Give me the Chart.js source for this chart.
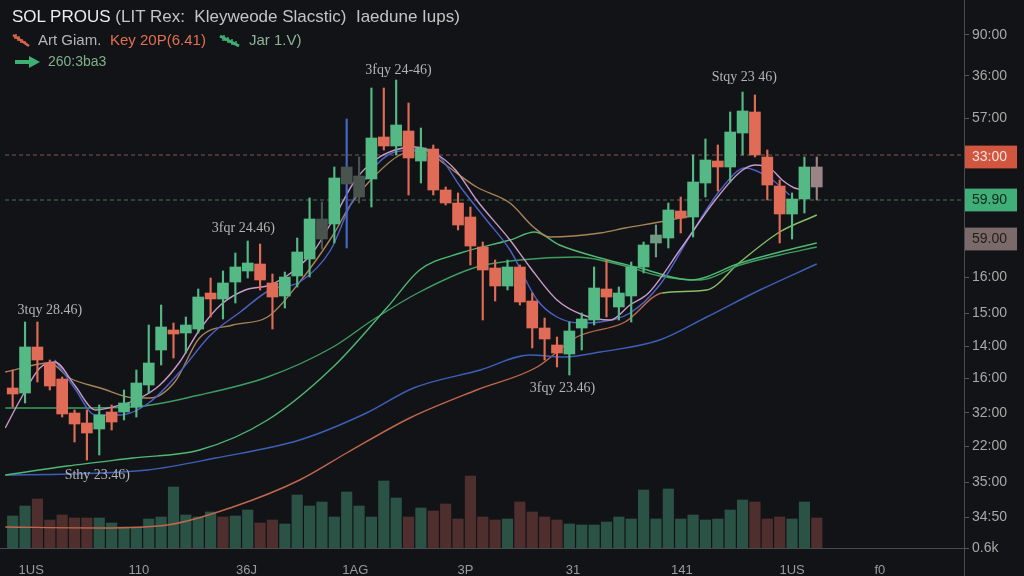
<!DOCTYPE html>
<html>
<head>
<meta charset="utf-8">
<script src="https://cdn.jsdelivr.net/npm/chart.js@4.4.1/dist/chart.umd.min.js"></script>
<style>
html,body{margin:0;padding:0;background:#121317;}
#wrap{position:relative;width:1024px;height:576px;overflow:hidden;background:#121317;}
#c{position:absolute;left:0;top:0;}
.t{position:absolute;white-space:nowrap;font-family:'Liberation Sans',Arial,sans-serif;}
</style>
</head>
<body>
<div id="wrap">
<canvas id="c" width="1024" height="576"></canvas>
<div class="t" style="left:12px;top:7px;font-size:17px;color:#c4c4c4"><span style="color:#ececec">SOL PROUS</span> (LIT Rex:&nbsp; Kleyweode Slacstic)&nbsp; Iaedune Iups)</div>
<svg class="t" style="left:11px;top:32px" width="20" height="16" viewBox="0 0 20 16"><path d="M2 3 L18 14" stroke="#d8664a" stroke-width="2.5"/><path d="M5 2l0 3M8 4l0 3M11 7l0 3M14 9l0 3M3 6h3M6 8h3M9 10h3" stroke="#d8664a" stroke-width="1.5"/></svg>
<div class="t" style="left:38px;top:31px;font-size:15px;color:#b5b5b5">Art Giam.</div>
<div class="t" style="left:110px;top:31px;font-size:15px;color:#e07050">Key 20P(6.41)</div>
<svg class="t" style="left:218px;top:34px" width="24" height="14" viewBox="0 0 24 14"><path d="M2 2 L21 12" stroke="#3fae72" stroke-width="3"/><path d="M6 1l0 4M10 3l0 4M14 5l0 4M18 7l0 4M4 6h4M9 8h4M13 10h4" stroke="#3fae72" stroke-width="1.5"/></svg>
<div class="t" style="left:249px;top:31px;font-size:15px;color:#8fb39a">Jar 1.V)</div>
<svg class="t" style="left:14px;top:54px" width="28" height="16" viewBox="0 0 28 16"><path d="M1 8 H17" stroke="#3fb072" stroke-width="4"/><path d="M15 2 L26 8 L15 14 Z" fill="#3fb072"/></svg>
<div class="t" style="left:48px;top:53px;font-size:14px;color:#7fb08a">260:3ba3</div>
</div>
<script>
// ---- data ----
const candleOpen  = [16.0,15.5,20.1,18.5,16.9,13.5,12.5,11.9,13.6,13.6,14.1,16.3,19.8,21.8,21.5,21.9,25.5,24.9,26.6,27.7,28.4,26.5,25.2,27.2,28.9,32.9,32.4,38.1,37.2,36.9,41.1,40.2,41.7,38.7,39.9,35.8,34.5,33.1,30.1,28.0,26.2,28.1,24.7,22.0,20.3,19.4,22.0,22.8,25.9,24.1,25.2,28.1,30.5,31.0,33.7,33.1,36.5,38.7,38.1,41.5,43.6,39.1,36.2,33.4,34.9,38.1];
const candleHigh  = [17.8,22.6,22.6,18.8,17.1,13.8,13.8,14.3,14.3,15.8,17.8,22.3,24.3,22.5,23.1,25.9,27.0,27.7,29.5,30.7,30.4,27.4,27.6,31.0,35.0,34.6,38.1,42.9,39.1,46.0,46.0,46.8,44.5,42.0,40.3,36.1,35.5,34.1,30.6,28.8,28.8,28.3,25.5,23.0,21.1,22.6,23.5,28.1,28.8,26.1,28.6,30.6,32.3,34.5,35.1,39.3,40.9,40.3,43.6,45.6,45.3,39.8,36.8,35.5,39.1,39.1];
const candleLow   = [14.1,14.5,16.6,15.8,13.1,10.6,8.8,9.3,11.8,12.8,13.1,15.5,18.3,19.0,19.5,21.5,23.1,22.9,24.5,27.0,25.8,21.9,24.0,26.1,27.1,29.9,30.5,30.0,34.5,34.1,39.8,39.3,35.3,36.5,35.3,34.3,31.8,28.3,22.8,24.7,25.8,24.3,20.0,18.8,18.1,17.3,19.8,22.3,23.1,22.8,22.6,27.5,29.1,30.0,31.5,31.1,35.1,35.7,36.6,39.3,39.1,34.8,30.5,30.9,33.5,34.8];
const candleClose = [15.4,20.1,18.8,16.2,13.4,12.4,11.5,13.3,12.6,14.5,16.5,18.5,22.1,21.4,22.3,25.1,24.9,26.5,28.1,28.5,26.8,25.1,27.1,29.6,32.9,30.9,37.0,36.4,35.1,41.0,40.2,42.3,39.0,40.0,35.8,34.5,32.3,30.2,27.8,26.2,28.1,24.6,22.0,20.9,19.5,21.7,22.9,26.0,25.1,25.5,28.1,30.3,31.3,33.8,33.0,36.6,38.8,38.1,41.6,43.7,39.3,36.3,33.4,34.9,38.1,36.1];
const mutedCandles = [25, 27, 28, 52, 65];
const volume = [3.2,4.2,4.9,2.8,3.3,3.0,3.0,3.0,2.5,2.1,2.1,2.9,3.1,6.1,3.3,3.1,3.6,3.1,3.2,3.8,2.5,2.8,2.4,5.3,4.2,4.6,3.1,5.6,4.2,3.1,6.7,5.0,3.1,4.0,3.7,4.4,2.9,7.2,3.1,2.8,2.9,4.6,3.6,3.1,2.8,2.4,2.3,2.3,2.6,3.1,2.9,5.8,2.9,5.9,2.9,3.3,2.8,2.9,3.8,4.8,4.6,2.9,3.1,2.9,4.6,3.0];
const volumeSide = ('ggrrrrrggg'+'gggggggrgg'+'rrgggggggg'+'ggrgrrrrrr'+'grrrrggggg'+'gggggggggg'+'rrrggr').split('');

const maPink = [[-0.6,12.0],[0.6,14.8],[2.2,18.0],[3.4,18.6],[5.0,16.3],[6.7,13.8],[8.7,14.3],[10.3,15.0],[11.9,16.3],[13.5,18.6],[15.1,21.8],[16.8,24.3],[18.8,25.8],[20.8,26.3],[22.8,27.8],[24.4,29.8],[26.1,33.3],[27.7,36.8],[29.3,38.8],[30.9,39.8],[32.5,40.1],[34.1,39.5],[35.8,37.8],[37.5,34.8],[40.2,30.8],[41.8,28.1],[44.0,24.8],[46.1,23.3],[48.3,22.8],[49.9,24.3],[51.4,25.5],[54.1,30.1],[56.8,34.8],[58.8,37.6],[60.0,38.3],[61.2,38.0],[62.2,36.8],[63.2,36.0],[64.0,35.8]];
const maBlueFast = [[3.4,18.8],[5.0,16.0],[6.7,13.3],[8.7,13.3],[11.1,14.6],[13.5,17.6],[16.0,21.3],[18.4,23.6],[20.8,25.8],[23.2,26.6],[25.7,29.8],[27.3,34.3],[28.9,37.6],[30.9,39.6],[32.9,39.8],[34.5,39.1],[36.2,36.1],[38.3,32.8],[40.2,29.8],[42.4,24.8],[44.0,23.1],[45.9,22.5],[47.5,22.6],[49.9,23.5],[52.3,26.3],[54.8,31.3],[57.2,35.8],[59.2,38.0],[61.2,37.0],[62.8,35.3]];
const maTan = [[-0.6,17.6],[3.0,18.5],[4.6,17.0],[7.1,16.0],[9.9,15.0],[11.1,15.0],[13.1,16.6],[15.1,21.0],[17.8,22.3],[20.6,23.1],[23.2,26.6],[25.9,31.3],[27.3,34.3],[29.1,37.0],[31.3,39.3],[33.3,39.8],[34.8,38.5],[37.5,36.1],[40.2,34.5],[42.1,32.1],[43.4,31.1],[47.5,31.5],[49.5,32.0],[52.3,32.6],[54.8,33.2]];
const maGreenA = [[-0.6,7.3],[4.4,8.2],[9.7,9.0],[15.1,9.8],[20.6,12.8],[25.9,18.1],[30.3,24.1],[32.9,27.8],[36.2,29.5],[40.2,30.8],[42.2,31.6],[44.2,30.3],[47.5,29.0],[50.7,28.0],[54.8,26.8],[58.8,28.5],[62.0,29.6],[65.0,30.5]];
const maGreenB = [[-0.6,14.0],[4.4,14.0],[9.7,14.1],[15.1,15.3],[20.6,17.1],[25.9,20.1],[29.1,22.8],[32.9,25.6],[37.5,28.1],[41.0,28.8],[45.6,29.1],[49.5,28.2],[52.3,27.2],[55.6,26.8],[58.8,28.3],[62.0,29.3],[65.0,30.1]];
const maBlueSlow = [[-0.6,7.3],[4.6,7.4],[10.9,7.8],[16.4,9.0],[23.2,10.8],[28.6,13.5],[32.4,16.0],[37.8,17.8],[41.8,19.3],[44.5,19.1],[47.5,19.6],[52.3,20.8],[56.1,23.1],[60.4,25.8],[65.0,28.4]];
const maOrangeSlow = [[-0.6,2.1],[7.1,2.0],[12.5,2.3],[17.8,4.1],[23.2,6.8],[27.0,9.5],[32.1,13.0],[37.5,15.8],[42.4,18.1],[45.6,21.1],[49.5,22.6],[52.5,25.5],[56.1,25.8],[58.8,28.6],[62.0,31.6],[65.0,33.3]];

const priceLines = [39.3, 34.8];
const yTickValues = [51.3, 47.2, 43.0, 39.1, 34.8, 30.9, 27.1, 23.5, 20.2, 17.0, 13.5, 10.2, 6.6, 3.1, 0];
const yTickLabels = ['90:00','36:00','57:00','33:00','59.90','59.00','16:00','15:00','14:00','16:00','32:00','22:00','35:00','34:50','0.6k'];
const xTickValues = [1.5, 10.2, 18.9, 27.7, 36.6, 45.3, 54.1, 63.0, 70.1];
const xTickLabels = ['1US','110','36J','1AG','3P','31','141','1US','f0'];
const annoText = ['3fqy 24-46)', '3fqr 24.46)', 'Stqy 23 46)', '3tqy 28.46)', '3fqy 23.46)', 'Sthy 23.46)'];
const annoAt = [[28.5,47.8],[16.1,32.0],[56.5,47.1],[0.4,23.8],[41.8,16.0],[4.2,7.3]];

// ---- styling helpers ----
const UP = '#55b985', DOWN = '#e06c57';
function candleColor(i){
  if (mutedCandles.includes(i)) {
    if (i === 52) return '#6f9a80';
    if (i === 65) return '#9a8486';
    return '#4a544e';
  }
  return candleClose[i] >= candleOpen[i] ? UP : DOWN;
}
const idx = candleOpen.map((_, i) => i);
const pts = arr => arr.map(p => ({x: p[0], y: p[1]}));
function lineDs(arr, color, order, extra){
  return Object.assign({type:'line', data: pts(arr), borderColor: color, borderWidth: 1.4,
    pointRadius: 0, cubicInterpolationMode: 'monotone', fill: false, order: order, yAxisID: 'y'}, extra || {});
}

const badge = {3: ['#d2553f', '#f3e2dc'], 4: ['#3fae78', '#0f2a1c'], 5: ['#7a6a6a', '#241d1d']};

const annoPlugin = {
  id: 'anno',
  afterDatasetsDraw(chart){
    const {ctx, scales: {x, y}} = chart;
    ctx.save();
    ctx.font = '14px "Liberation Serif", "DejaVu Serif", serif';
    ctx.fillStyle = '#b4b4b4';
    ctx.textBaseline = 'middle';
    annoText.forEach((t, k) => ctx.fillText(t, x.getPixelForValue(annoAt[k][0]), y.getPixelForValue(annoAt[k][1])));
    ctx.restore();
  },
  afterDraw(chart){
    const {ctx, chartArea: a, width, height} = chart;
    ctx.save();
    ctx.strokeStyle = '#4a4b50';
    ctx.lineWidth = 1;
    ctx.beginPath();
    ctx.moveTo(0, a.bottom + 0.5); ctx.lineTo(a.left, a.bottom + 0.5);
    ctx.moveTo(a.right + 0.5, a.bottom); ctx.lineTo(a.right + 0.5, height);
    ctx.stroke();
    ctx.restore();
  }
};

new Chart(document.getElementById('c'), {
  type: 'bar',
  data: {
    datasets: [
      {label:'bodies', data: idx.map(i => ({x: i, y: [candleOpen[i], candleClose[i]]})),
        backgroundColor: idx.map(candleColor), barThickness: 11, minBarLength: 2, grouped: false, order: 1, yAxisID: 'y'},
      {label:'wicks', data: idx.map(i => ({x: i, y: [candleLow[i], candleHigh[i]]})),
        backgroundColor: idx.map(i => i === 27 ? '#4667c8' : candleColor(i)), barThickness: 1.5, grouped: false, order: 2, yAxisID: 'y'},
      lineDs(maPink, '#c99ac8', 4),
      lineDs(maBlueFast, '#4d62c9', 5),
      lineDs(maTan, '#a88458', 5),
      lineDs(maGreenA, '#4fb873', 6),
      lineDs(maGreenB, '#3f9c62', 6),
      lineDs(maBlueSlow, '#3d5fb8', 6),
      lineDs(maOrangeSlow, '#c0684c', 6, {segment: {borderColor: c => c.p0.parsed.x >= 52 ? '#86bf66' : '#c0684c'}}),
      {type:'line', data: [{x:-0.62, y: priceLines[0]}, {x: 76.9, y: priceLines[0]}], borderColor: 'rgba(165,110,105,0.75)', borderWidth: 1, borderDash: [4,3], pointRadius: 0, order: 8, yAxisID: 'y'},
      {type:'line', data: [{x:-0.62, y: priceLines[1]}, {x: 76.9, y: priceLines[1]}], borderColor: 'rgba(95,150,110,0.75)', borderWidth: 1, borderDash: [4,3], pointRadius: 0, order: 8, yAxisID: 'y'},
      {label:'volume', data: idx.map(i => ({x: i, y: volume[i]})),
        backgroundColor: idx.map(i => volumeSide[i] === 'g' ? '#2b5345' : '#4f2f2d'), barThickness: 10.5, grouped: false, order: 10, yAxisID: 'yv'}
    ]
  },
  options: {
    responsive: false,
    animation: false,
    layout: {padding: {left: 5, right: 0, top: 0, bottom: 0}},
    plugins: {legend: {display: false}, tooltip: {enabled: false}},
    scales: {
      x: {type: 'linear', min: -0.62, max: 76.9, offset: false,
        afterBuildTicks: s => { s.ticks = xTickValues.map(v => ({value: v})); },
        afterFit: s => { s.height = 28; s.paddingLeft = 0; s.paddingRight = 0; },
        grid: {display: false},
        border: {display: true, color: '#4a4b50'},
        ticks: {autoSkip: false, maxRotation: 0, padding: 7, color: '#9a9a9a',
          font: {family: 'Liberation Sans', size: 13},
          callback: (v, i) => xTickLabels[i]}
      },
      y: {position: 'right', min: 0, max: 54.8,
        afterBuildTicks: s => { s.ticks = yTickValues.map(v => ({value: v})); },
        afterFit: s => { s.width = 60; s.paddingTop = 0; s.paddingBottom = 0; },
        grid: {drawOnChartArea: false, drawTicks: true, tickLength: 5, color: '#55565b'},
        border: {display: true, color: '#4a4b50'},
        ticks: {autoSkip: false, padding: 3,
          font: {family: 'Liberation Sans', size: 14},
          color: c => badge[c.index] ? badge[c.index][1] : '#a8a8a8',
          showLabelBackdrop: c => !!badge[c.index],
          backdropColor: c => badge[c.index] ? badge[c.index][0] : 'rgba(0,0,0,0)',
          backdropPadding: {top: 3, bottom: 3, left: 7, right: 10},
          callback: (v, i) => yTickLabels[i]}
      },
      yv: {display: false, min: 0, max: 54.8, afterFit: s => { s.paddingTop = 0; s.paddingBottom = 0; }}
    }
  },
  plugins: [annoPlugin]
});
</script>
</body>
</html>
